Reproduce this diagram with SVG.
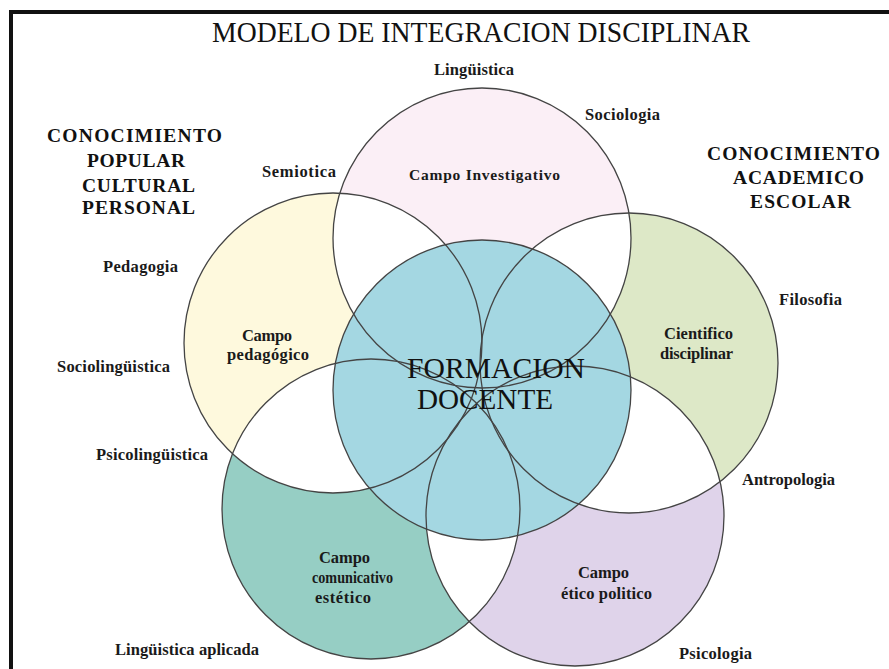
<svg xmlns="http://www.w3.org/2000/svg" width="889" height="669" viewBox="0 0 889 669">
<style>
.ol{fill:none;stroke:#444;stroke-width:1.3}
.lbl{font-family:"Liberation Serif","Times New Roman",serif;font-weight:bold;font-size:16.5px;fill:#1a1a1a}
.hd{font-family:"Liberation Serif","Times New Roman",serif;font-weight:bold;font-size:19.5px;fill:#111}
.ttl{font-family:"Liberation Serif","Times New Roman",serif;font-size:29px;fill:#111}
.ctr{font-family:"Liberation Serif","Times New Roman",serif;font-size:30px;fill:#111}
</style>
<defs>
<clipPath id="cPink"><ellipse cx="482" cy="238" rx="149" ry="150"/></clipPath>
<clipPath id="cGreen"><ellipse cx="629" cy="363" rx="149" ry="150"/></clipPath>
<clipPath id="cPurple"><ellipse cx="575" cy="516" rx="149" ry="150"/></clipPath>
<clipPath id="cTeal"><ellipse cx="371" cy="509" rx="149" ry="150"/></clipPath>
<clipPath id="cYellow"><ellipse cx="333" cy="343" rx="149" ry="150"/></clipPath>
</defs>
<rect width="889" height="669" fill="#fff"/>
<g id="frame">
<line x1="9" y1="12" x2="889" y2="12" stroke="#111" stroke-width="4"/>
<line x1="11" y1="10" x2="11" y2="669" stroke="#111" stroke-width="4"/>
</g>
<g id="title"><text class="ttl" x="212" y="42" textLength="538" lengthAdjust="spacingAndGlyphs">MODELO DE INTEGRACION DISCIPLINAR</text></g>
<g id="fills">
<ellipse cx="482" cy="238" rx="149" ry="150" fill="#FBEFF6"/>
<ellipse cx="629" cy="363" rx="149" ry="150" fill="#DDE8C7"/>
<ellipse cx="575" cy="516" rx="149" ry="150" fill="#DFD3EA"/>
<ellipse cx="371" cy="509" rx="149" ry="150" fill="#96CEC4"/>
<ellipse cx="333" cy="343" rx="149" ry="150" fill="#FEF9DD"/>
<ellipse cx="629" cy="363" rx="149" ry="150" fill="#fff" clip-path="url(#cPink)"/>
<ellipse cx="575" cy="516" rx="149" ry="150" fill="#fff" clip-path="url(#cGreen)"/>
<ellipse cx="371" cy="509" rx="149" ry="150" fill="#fff" clip-path="url(#cPurple)"/>
<ellipse cx="333" cy="343" rx="149" ry="150" fill="#fff" clip-path="url(#cTeal)"/>
<ellipse cx="482" cy="238" rx="149" ry="150" fill="#fff" clip-path="url(#cYellow)"/>
<ellipse cx="482" cy="390" rx="149" ry="150" fill="#A4D7E2"/>
</g>
<g id="node-investigativo">
<ellipse class="ol" cx="482" cy="238" rx="149" ry="150"/>
<text class="lbl" x="409" y="180" textLength="151" style="font-size:15.5px">Campo Investigativo</text>
</g>
<g id="node-cientifico">
<ellipse class="ol" cx="629" cy="363" rx="149" ry="150"/>
<text class="lbl" x="664" y="339" textLength="69">Cientifico</text>
<text class="lbl" x="660" y="359" textLength="73">disciplinar</text>
</g>
<g id="node-etico">
<ellipse class="ol" cx="575" cy="516" rx="149" ry="150"/>
<text class="lbl" x="578" y="578" textLength="51">Campo</text>
<text class="lbl" x="561" y="599" textLength="91">ético politico</text>
</g>
<g id="node-comunicativo">
<ellipse class="ol" cx="371" cy="509" rx="149" ry="150"/>
<text class="lbl" x="319" y="563" textLength="51">Campo</text>
<text class="lbl" x="312" y="583" textLength="81" lengthAdjust="spacingAndGlyphs">comunicativo</text>
<text class="lbl" x="315" y="603" textLength="56">estético</text>
</g>
<g id="node-pedagogico">
<ellipse class="ol" cx="333" cy="343" rx="149" ry="150"/>
<text class="lbl" x="242" y="341" textLength="50">Campo</text>
<text class="lbl" x="227" y="360" textLength="82">pedagógico</text>
</g>
<g id="node-formacion">
<ellipse class="ol" cx="482" cy="390" rx="149" ry="150"/>
<text class="ctr" x="407" y="378" textLength="178" lengthAdjust="spacingAndGlyphs">FORMACION</text>
<text class="ctr" x="417" y="409" textLength="136" lengthAdjust="spacingAndGlyphs">DOCENTE</text>
</g>
<g id="labels">
<text class="lbl" x="434" y="75" textLength="80">Lingüistica</text>
<text class="lbl" x="585" y="120" textLength="75">Sociologia</text>
<text class="lbl" x="262" y="177" textLength="74">Semiotica</text>
<text class="lbl" x="103" y="272" textLength="75">Pedagogia</text>
<text class="lbl" x="779" y="305" textLength="63">Filosofia</text>
<text class="lbl" x="57" y="372" textLength="113">Sociolingüistica</text>
<text class="lbl" x="96" y="460" textLength="112">Psicolingüistica</text>
<text class="lbl" x="742" y="485" textLength="93">Antropologia</text>
<text class="lbl" x="115" y="655" textLength="144">Lingüistica aplicada</text>
<text class="lbl" x="679" y="659" textLength="73">Psicologia</text>
</g>
<g id="heading-left">
<text class="hd" x="47" y="142" textLength="175">CONOCIMIENTO</text>
<text class="hd" x="87" y="167" textLength="98">POPULAR</text>
<text class="hd" x="82" y="192" textLength="113">CULTURAL</text>
<text class="hd" x="82" y="214" textLength="113">PERSONAL</text>
</g>
<g id="heading-right">
<text class="hd" x="707" y="160" textLength="173">CONOCIMIENTO</text>
<text class="hd" x="733" y="184" textLength="131">ACADEMICO</text>
<text class="hd" x="750" y="208" textLength="101">ESCOLAR</text>
</g>
</svg>
